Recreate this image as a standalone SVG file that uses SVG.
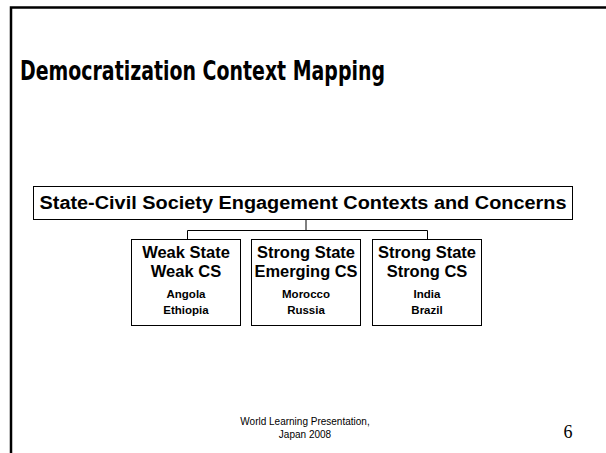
<svg xmlns="http://www.w3.org/2000/svg" width="606" height="453" viewBox="0 0 606 453">
<style>
.box{fill:#fff;stroke:#000;stroke-width:1}
.t{font-family:"Liberation Sans",Arial,sans-serif;font-weight:bold;text-anchor:middle;fill:#000}
.big{font-size:16.5px}
.small{font-size:11.5px}
.conn{fill:none;stroke:#000;stroke-width:1}
</style>
<rect width="606" height="453" fill="#fff"/>
<path d="M11 453 V7.5 H606" fill="none" stroke="#000" stroke-width="2.5"/>
<text x="20" y="80" font-family="DejaVu Sans,Verdana,sans-serif" font-weight="bold" font-size="27" textLength="365" lengthAdjust="spacingAndGlyphs">Democratization Context Mapping</text>
<g id="connectors">
<path class="conn" d="M306 219.5 V230.5 M187.5 239 V230.5 H427.5 V239"/>
</g>
<g id="root">
<rect class="box" x="33.5" y="186.5" width="539" height="33"/>
<text class="t" x="303" y="209" font-size="18" textLength="527" lengthAdjust="spacingAndGlyphs">State-Civil Society Engagement Contexts and Concerns</text>
</g>
<g id="weak">
<rect class="box" x="131.5" y="239.5" width="109" height="86"/>
<text class="t big" x="186" y="258">Weak State</text>
<text class="t big" x="186" y="277">Weak CS</text>
<text class="t small" x="186" y="298">Angola</text>
<text class="t small" x="186" y="314">Ethiopia</text>
</g>
<g id="emerging">
<rect class="box" x="251.5" y="239.5" width="109" height="86"/>
<text class="t big" x="306" y="258">Strong State</text>
<text class="t big" x="306" y="277" textLength="103" lengthAdjust="spacingAndGlyphs">Emerging CS</text>
<text class="t small" x="306" y="298">Morocco</text>
<text class="t small" x="306" y="314">Russia</text>
</g>
<g id="strong">
<rect class="box" x="372.5" y="239.5" width="109" height="86"/>
<text class="t big" x="427" y="258">Strong State</text>
<text class="t big" x="427" y="277">Strong CS</text>
<text class="t small" x="427" y="298">India</text>
<text class="t small" x="427" y="314">Brazil</text>
</g>
<text x="305" y="425" font-family="Liberation Sans,Arial,sans-serif" font-size="10" text-anchor="middle">World Learning Presentation,</text>
<text x="305" y="438" font-family="Liberation Sans,Arial,sans-serif" font-size="10" text-anchor="middle">Japan 2008</text>
<text x="568" y="438" font-family="Liberation Serif,Times New Roman,serif" font-size="18" text-anchor="middle">6</text>
</svg>
